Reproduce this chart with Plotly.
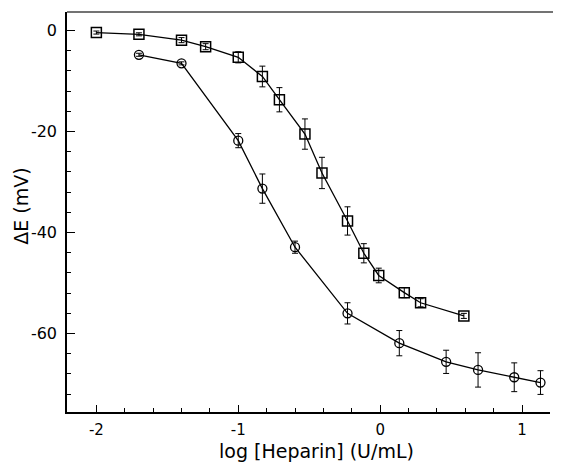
import plotly.graph_objects as go

# Squares series
sq_x = [-2.0, -1.7, -1.4, -1.23, -1.0, -0.83, -0.71, -0.53, -0.41, -0.23, -0.115, -0.01, 0.17, 0.285, 0.59]
sq_y = [-0.4, -0.75, -1.9, -3.2, -5.3, -9.1, -13.7, -20.5, -28.2, -37.7, -44.1, -48.5, -51.9, -53.9, -56.5]
sq_err = [0.3, 0.3, 0.5, 0.6, 1.1, 2.05, 2.4, 3.0, 3.1, 2.8, 1.9, 1.45, 1.0, 0.8, 0.5]

# Circles series
ci_x = [-1.7, -1.4, -1.0, -0.83, -0.6, -0.23, 0.135, 0.465, 0.69, 0.945, 1.13]
ci_y = [-4.8, -6.5, -21.8, -31.3, -42.9, -56.0, -61.9, -65.6, -67.2, -68.65, -69.7]
ci_err = [0.3, 0.3, 1.4, 2.9, 1.2, 2.1, 2.5, 2.3, 3.4, 2.85, 2.35]

x_ticks = [-2, -1, 0, 1]
y_ticks = [0, -20, -40, -60]

fig = go.Figure()
fig.add_trace(go.Scatter(
    x=ci_x, y=ci_y, mode="lines+markers",
    line=dict(color="black", width=1.3),
    marker=dict(symbol="circle-open", size=9, color="black", line=dict(width=1.3)),
    error_y=dict(type="data", array=ci_err, visible=True, color="black", thickness=1, width=3),
    showlegend=False,
))
fig.add_trace(go.Scatter(
    x=sq_x, y=sq_y, mode="lines+markers",
    line=dict(color="black", width=1.3),
    marker=dict(symbol="square-open", size=10, color="black", line=dict(width=1.5)),
    error_y=dict(type="data", array=sq_err, visible=True, color="black", thickness=1, width=3),
    showlegend=False,
))

font_family = "DejaVu Sans, sans-serif"
fig.update_layout(
    width=553, height=461,
    margin=dict(l=59, r=11, t=4, b=57),
    paper_bgcolor="white", plot_bgcolor="white",
    font=dict(family=font_family, color="black", size=16),
    xaxis=dict(
        range=[-2.207, 1.197], tickvals=x_ticks, ticktext=[str(v) for v in x_ticks],
        ticks="inside", ticklen=7, tickwidth=1.2, tickcolor="black",
        showline=True, linecolor="black", linewidth=1.5, showgrid=False, zeroline=False,
        minor=dict(dtick=0.2, tick0=0, ticks="inside", ticklen=4, tickcolor="black", tickwidth=1, showgrid=False),
        tickfont=dict(size=15), ticklabelstandoff=3, automargin=False,
    ),
    yaxis=dict(
        range=[-75.53, 3.67], tickvals=y_ticks, ticktext=[str(v) for v in y_ticks],
        ticks="inside", ticklen=8, tickwidth=1.2, tickcolor="black",
        showline=True, linecolor="black", linewidth=1.5, showgrid=False, zeroline=False,
        minor=dict(dtick=4, tick0=0, ticks="inside", ticklen=4, tickcolor="black", tickwidth=1, showgrid=False),
        tickfont=dict(size=16), ticklabelstandoff=5, automargin=False,
    ),
    annotations=[
        dict(text="log [Heparin] (U/mL)", xref="paper", yref="paper", x=0.517, y=0,
             xanchor="center", yanchor="middle", yshift=-39, showarrow=False,
             font=dict(size=19)),
        dict(text="ΔE (mV)", xref="paper", yref="paper", x=0, y=0.513,
             xanchor="center", yanchor="middle", xshift=-46, textangle=-90, showarrow=False,
             font=dict(size=19)),
    ],
    shapes=[dict(type="line", xref="paper", yref="paper", x0=0, x1=1.03, y0=1, y1=1,
                 line=dict(color="#444444", width=1.5))],
)

fig.write_html("out.html")
